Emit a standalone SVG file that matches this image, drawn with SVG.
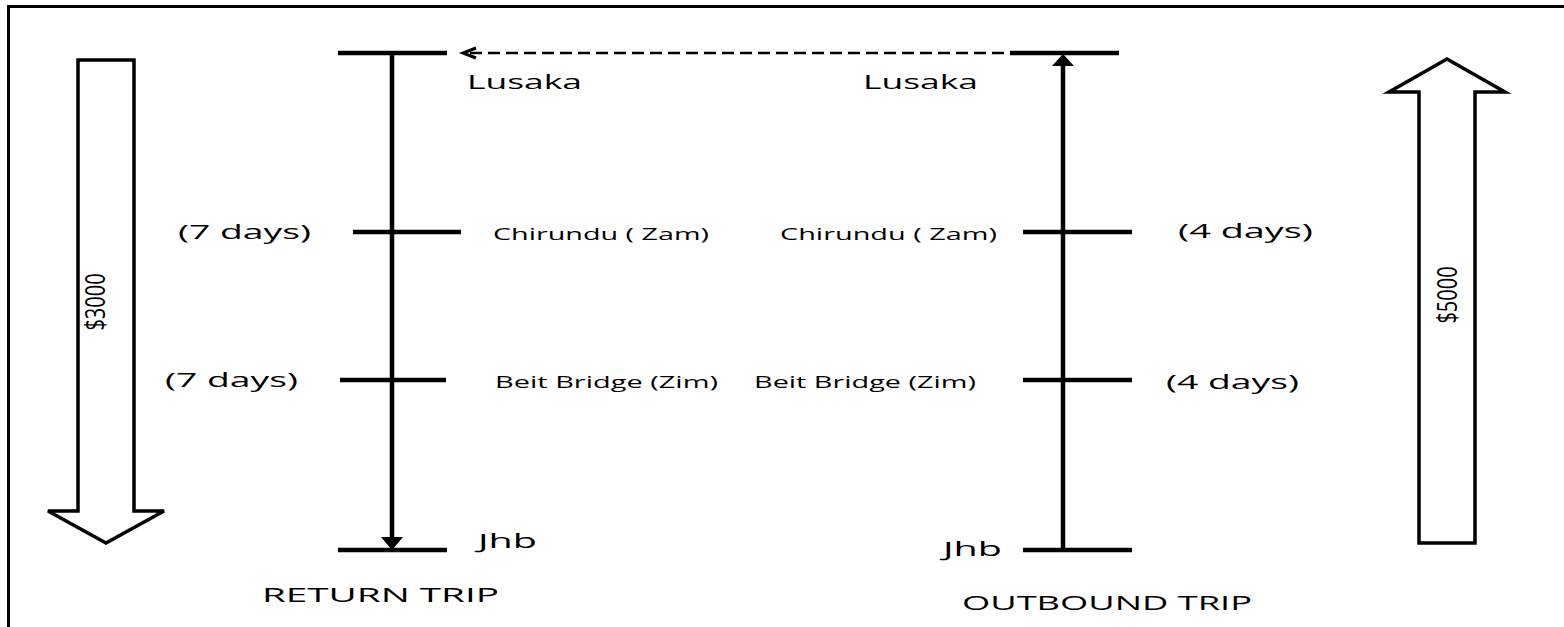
<svg xmlns="http://www.w3.org/2000/svg" width="1564" height="627" viewBox="0 0 1564 627">
<defs>
<style>
.t{font-family:"Open Sans","Liberation Sans",sans-serif;fill:#000;}
.lg{font-size:20px;}
.sm{font-size:16.5px;}
.bar{stroke:#000;stroke-width:4.5;fill:none;}
.blk{stroke:#000;stroke-width:3.5;fill:#fff;stroke-linejoin:miter;}
.dash{stroke:#000;stroke-width:2.5;stroke-dasharray:12 6;fill:none;}
.head{stroke:#000;stroke-width:3;fill:none;}
</style>
</defs>
<rect width="1564" height="627" fill="#fff"/>
<path id="frame" d="M8.5,627 V6.5 H1564" fill="none" stroke="#000" stroke-width="3"/>

<g id="money-return">
<polygon class="blk" points="78,60 134,60 134,511 164,511 106,543 48,511 78,511"/>
<g transform="translate(105,302) scale(1.35,1) rotate(-90)"><text class="t" font-size="20" text-anchor="middle" x="0" y="0">$3000</text></g>
</g>
<g id="money-outbound">
<polygon class="blk" points="1447,59 1505,92 1475,92 1475,543 1419,543 1419,92 1389,92"/>
<g transform="translate(1457,295) scale(1.35,1) rotate(-90)"><text class="t" font-size="20" text-anchor="middle" x="0" y="0">$5000</text></g>
</g>

<g id="return-trip">
<line class="bar" x1="338" y1="53" x2="447" y2="53"/>
<line class="bar" x1="353" y1="232" x2="461" y2="232"/>
<line class="bar" x1="340" y1="380" x2="446" y2="380"/>
<line class="bar" x1="338" y1="550" x2="447" y2="550"/>
<text class="t lg" x="467" y="89" textLength="115" lengthAdjust="spacingAndGlyphs">Lusaka</text>
<text class="t lg" x="178" y="239" textLength="133" lengthAdjust="spacingAndGlyphs">(7 days)</text>
<text class="t sm" x="493" y="240" textLength="216" lengthAdjust="spacingAndGlyphs">Chirundu ( Zam)</text>
<text class="t lg" x="165" y="387" textLength="133" lengthAdjust="spacingAndGlyphs">(7 days)</text>
<text class="t sm" x="495" y="388" textLength="223" lengthAdjust="spacingAndGlyphs">Beit Bridge (Zim)</text>
<text class="t lg" x="478" y="548" textLength="59" lengthAdjust="spacingAndGlyphs">Jhb</text>
<text class="t lg" x="262" y="602" textLength="237" lengthAdjust="spacingAndGlyphs">RETURN TRIP</text>
</g>

<g id="outbound-trip">
<line class="bar" x1="1010" y1="53" x2="1119" y2="53"/>
<line class="bar" x1="1023" y1="232" x2="1132" y2="232"/>
<line class="bar" x1="1023" y1="380" x2="1132" y2="380"/>
<line class="bar" x1="1023" y1="550" x2="1132" y2="550"/>
<text class="t lg" x="863" y="89" textLength="115" lengthAdjust="spacingAndGlyphs">Lusaka</text>
<text class="t sm" x="780" y="240" textLength="217" lengthAdjust="spacingAndGlyphs">Chirundu ( Zam)</text>
<text class="t lg" x="1178" y="238" textLength="135" lengthAdjust="spacingAndGlyphs">(4 days)</text>
<text class="t sm" x="754" y="388" textLength="222" lengthAdjust="spacingAndGlyphs">Beit Bridge (Zim)</text>
<text class="t lg" x="1166" y="389" textLength="133" lengthAdjust="spacingAndGlyphs">(4 days)</text>
<text class="t lg" x="943" y="556" textLength="59" lengthAdjust="spacingAndGlyphs">Jhb</text>
<text class="t lg" x="962" y="610" textLength="290" lengthAdjust="spacingAndGlyphs">OUTBOUND TRIP</text>
</g>

<g id="connectors">
<line class="bar" x1="392" y1="53" x2="392" y2="540"/>
<path d="M381,537 L403,537 L392,550 Z" fill="#000"/>
<line class="bar" x1="1063" y1="550" x2="1063" y2="64"/>
<path d="M1052,66 L1074,66 L1063,54 Z" fill="#000"/>
<line class="dash" x1="1004" y1="53" x2="466" y2="53"/>
<polyline class="head" points="476,48 463,53 476,58"/>
</g>
</svg>
